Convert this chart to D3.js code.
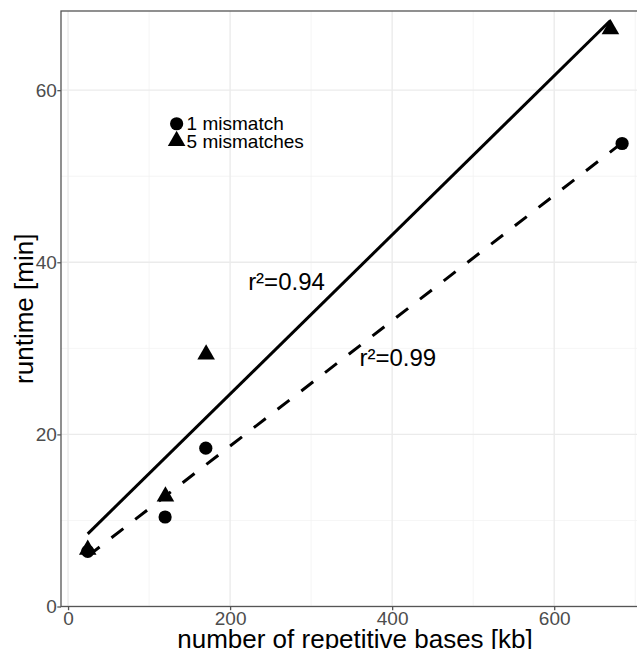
<!DOCTYPE html>
<html>
<head>
<meta charset="utf-8">
<script src="https://cdn.jsdelivr.net/npm/d3@7"></script>
<style>
  html, body { margin: 0; padding: 0; background: #ffffff; }
  svg { display: block; font-family: "Liberation Sans", Arial, Helvetica, sans-serif; }
</style>
</head>
<body>
<script>
// ---- data ----
const circleX = [24.3, 119.8, 170.0, 683.8];   // 1 mismatch
const circleY = [6.4, 10.4, 18.4, 53.8];
const triX = [24.3, 120.2, 170.4, 669.4];      // 5 mismatches
const triY = [6.6, 12.8, 29.3, 67.1];
const xTicks = [0, 200, 400, 600];
const xMinor = [100, 300, 500, 700];
const yTicks = [0, 20, 40, 60];
const yMinor = [10, 30, 50];
const legendLabels = ["1 mismatch", "5 mismatches"];
const legendX = [134, 134];
const legendY = [56.1, 54.1];
const r2Labels = ["r\u00B2=0.99", "r\u00B2=0.94"];
const r2X = [407, 269.6];
const r2Y = [28.9, 37.8];
const xTitle = "number of repetitive bases [kb]";
const yTitle = "runtime [min]";

// ---- layout ----
const W = 637, H = 649;
const panel = { left: 61, right: 649, top: 11, bottom: 606.5 };

const x = d3.scaleLinear().domain([-8.7, 717]).range([panel.left, panel.right]);
const y = d3.scaleLinear().domain([0, 69.2]).range([panel.bottom, panel.top]);

const svg = d3.select("body").append("svg").attr("width", W).attr("height", H);

svg.append("defs").append("clipPath").attr("id", "pclip")
  .append("rect").attr("x", panel.left).attr("y", panel.top)
  .attr("width", panel.right - panel.left).attr("height", panel.bottom - panel.top);

const g = svg.append("g").attr("clip-path", "url(#pclip)");

// minor grid
g.selectAll(".xminor").data(xMinor).enter().append("line")
  .attr("x1", d => x(d)).attr("x2", d => x(d)).attr("y1", panel.top).attr("y2", panel.bottom)
  .attr("stroke", "#F2F2F2").attr("stroke-width", 0.75);
g.selectAll(".yminor").data(yMinor).enter().append("line")
  .attr("y1", d => y(d)).attr("y2", d => y(d)).attr("x1", panel.left).attr("x2", panel.right)
  .attr("stroke", "#F2F2F2").attr("stroke-width", 0.75);
// major grid
g.selectAll(".xmajor").data(xTicks).enter().append("line")
  .attr("x1", d => x(d)).attr("x2", d => x(d)).attr("y1", panel.top).attr("y2", panel.bottom)
  .attr("stroke", "#EBEBEB").attr("stroke-width", 1.4);
g.selectAll(".ymajor").data(yTicks).enter().append("line")
  .attr("y1", d => y(d)).attr("y2", d => y(d)).attr("x1", panel.left).attr("x2", panel.right)
  .attr("stroke", "#EBEBEB").attr("stroke-width", 1.4);

// regression lines (least squares, over each group's x range)
function fit(xs, ys) {
  const mx = d3.mean(xs), my = d3.mean(ys);
  let sxy = 0, sxx = 0;
  xs.forEach((v, i) => { sxy += (v - mx) * (ys[i] - my); sxx += (v - mx) * (v - mx); });
  const b = sxy / sxx, a = my - b * mx;
  const [x0, x1] = d3.extent(xs);
  return [[x0, a + b * x0], [x1, a + b * x1]];
}
const line = d3.line().x(d => x(d[0])).y(d => y(d[1]));
g.append("path").attr("d", line(fit(circleX, circleY)))
  .attr("fill", "none").attr("stroke", "#000").attr("stroke-width", 3)
  .attr("stroke-dasharray", "15,15");
g.append("path").attr("d", line(fit(triX, triY)))
  .attr("fill", "none").attr("stroke", "#000").attr("stroke-width", 3);

// points
const circleSym = d3.symbol(d3.symbolCircle, Math.PI * 6.6 * 6.6);
const triSym = d3.symbol(d3.symbolTriangle, 134);
g.selectAll(".circ").data(circleX).enter().append("path")
  .attr("d", circleSym).attr("transform", (d, i) => `translate(${x(d)},${y(circleY[i])})`)
  .attr("fill", "#000");
g.selectAll(".tri").data(triX).enter().append("path")
  .attr("d", triSym).attr("transform", (d, i) => `translate(${x(d)},${y(triY[i])})`)
  .attr("fill", "#000");

// legend annotation
const syms = [circleSym, triSym];
legendLabels.forEach((lab, i) => {
  g.append("path").attr("d", syms[i])
    .attr("transform", `translate(${x(legendX[i])},${y(legendY[i])})`).attr("fill", "#000");
  g.append("text").attr("x", x(legendX[i]) + 10).attr("y", y(legendY[i]))
    .attr("dy", "0.35em").attr("font-size", 19).attr("fill", "#000").text(lab);
});

// r2 labels
r2Labels.forEach((lab, i) => {
  g.append("text").attr("x", x(r2X[i])).attr("y", y(r2Y[i])).attr("dy", "0.35em")
    .attr("text-anchor", "middle").attr("font-size", 24).attr("fill", "#000").text(lab);
});

// panel border
svg.append("rect").attr("x", panel.left).attr("y", panel.top)
  .attr("width", panel.right - panel.left).attr("height", panel.bottom - panel.top)
  .attr("fill", "none").attr("stroke", "#555555").attr("stroke-width", 1.3);

// axes
const xAxis = d3.axisBottom(x).tickValues(xTicks).tickSize(3.7).tickPadding(1.5).tickFormat(d3.format("d"));
const yAxis = d3.axisLeft(y).tickValues(yTicks).tickSize(3.7).tickPadding(0.5).tickFormat(d3.format("d"));
const gx = svg.append("g").attr("transform", `translate(0,${panel.bottom})`).call(xAxis);
const gy = svg.append("g").attr("transform", `translate(${panel.left},0)`).call(yAxis);
[gx, gy].forEach(a => {
  a.select(".domain").remove();
  a.selectAll(".tick line").attr("stroke", "#555555").attr("stroke-width", 1.3);
  a.selectAll(".tick text").attr("fill", "#4D4D4D").attr("font-size", 19)
    .attr("font-family", "Liberation Sans, Arial, sans-serif");
});

// axis titles
svg.append("text").attr("x", (panel.left + panel.right) / 2).attr("y", 647.5)
  .attr("text-anchor", "middle").attr("font-size", 26).attr("fill", "#000").text(xTitle);
svg.append("text").attr("transform", `translate(33,${(panel.top + panel.bottom) / 2}) rotate(-90)`)
  .attr("text-anchor", "middle").attr("font-size", 26).attr("fill", "#000").text(yTitle);
</script>
</body>
</html>
